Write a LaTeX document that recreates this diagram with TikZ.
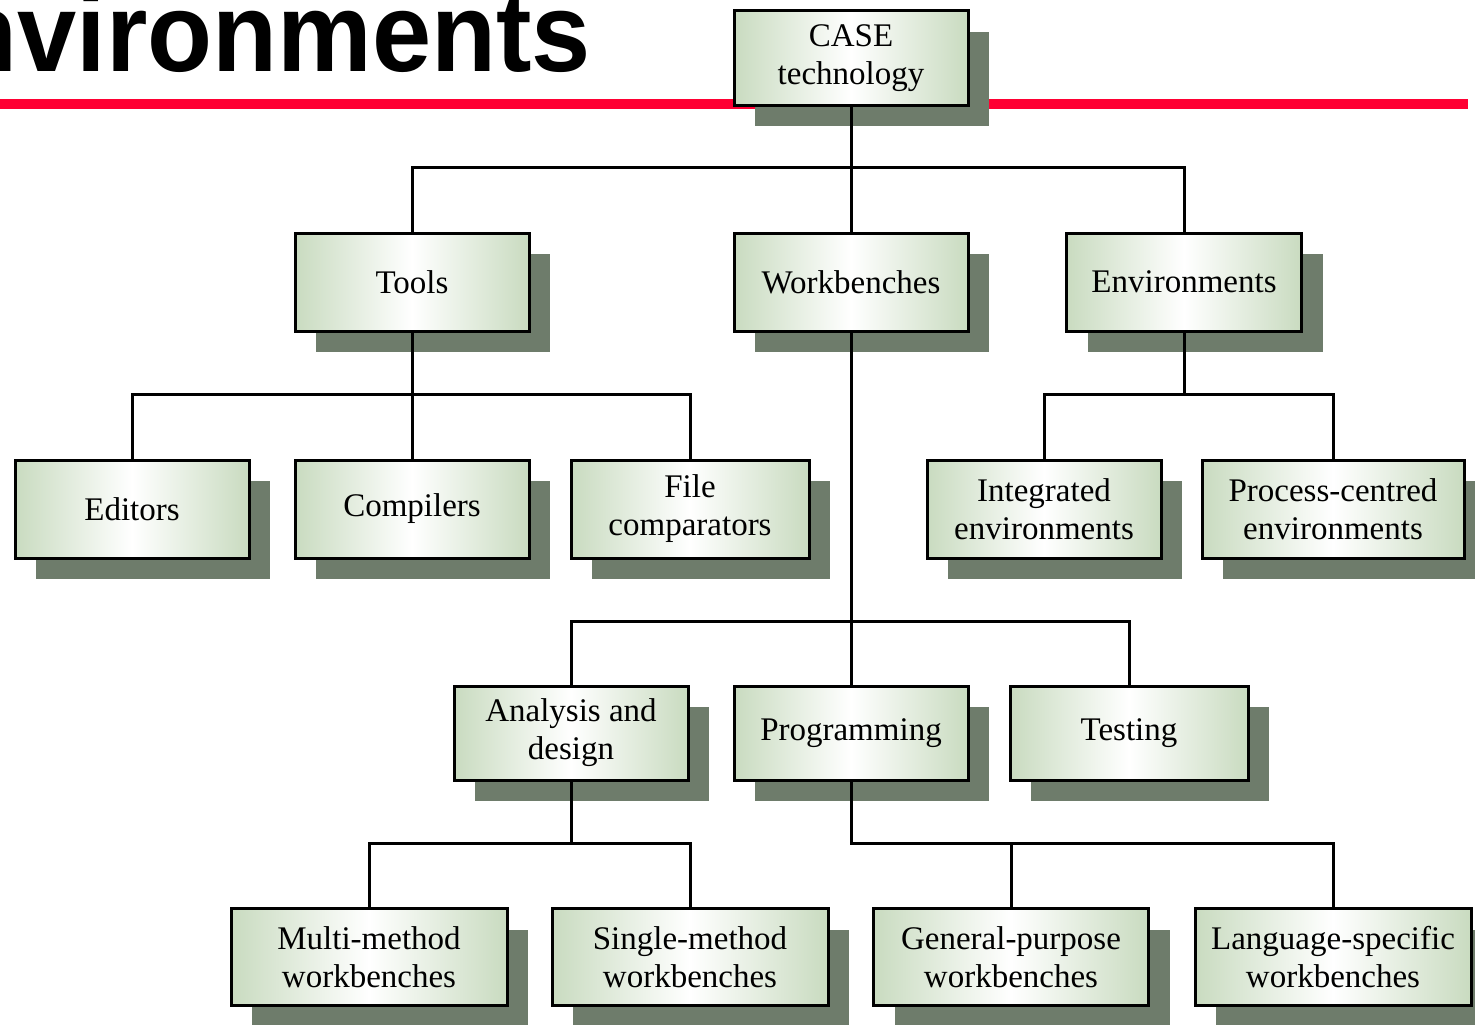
\documentclass[tikz,border=0pt]{standalone}
\usepackage{fontspec}
\setmainfont{Liberation Serif}
\newfontfamily\headfont{Liberation Sans}
\usetikzlibrary{shadows}
\definecolor{boxgreen}{HTML}{C9DBC0}
\definecolor{shadowgreen}{HTML}{6E7C6B}
\definecolor{rulered}{HTML}{FF0033}
\tikzset{
  casebox/.style={draw=black, line width=3pt, inner sep=0pt,
    left color=boxgreen, right color=boxgreen, middle color=white,
    align=center, font=\fontsize{33}{38}\selectfont,
    minimum width=234pt, minimum height=98pt,
    drop shadow={shadow xshift=21pt, shadow yshift=-21pt,
                 fill=shadowgreen, opacity=1}},
  link/.style={draw=black, line width=3pt}
}
\begin{document}
\begin{tikzpicture}[x=1pt, y=-1pt]
  \useasboundingbox (0,0) rectangle (1475,1025);
  % heading and rule
  \fill[rulered] (0,98.5) rectangle (1468,108.5);
  \node[anchor=base east, inner sep=0pt, xscale=0.95,
        font=\headfont\bfseries\fontsize{112}{112}\selectfont]
        (heading) at (591,71) {Environments};

  % boxes
  \node[casebox, minimum height=94pt] (case) at (851,58) {CASE\\technology};

  \node[casebox] (tools) at (412,282) {Tools};
  \node[casebox] (wb)    at (851,282) {Workbenches};
  \node[casebox, minimum width=235pt] (env) at (1184,282) {Environments};

  \node[casebox] (edit) at (132,509) {Editors};
  \node[casebox] (comp) at (412,509) {Compilers};
  \node[casebox, minimum width=238pt] (filec) at (690,509) {File\\comparators};
  \node[casebox] (integ) at (1044,509) {Integrated\\environments};
  \node[casebox, minimum width=262pt] (proc) at (1333,509) {Process-centred\\environments};

  \node[casebox, minimum height=94pt] (anal) at (571,733) {Analysis and\\design};
  \node[casebox, minimum height=94pt] (prog) at (851,733) {Programming};
  \node[casebox, minimum height=94pt, minimum width=238pt] (test) at (1129,733) {Testing};

  \node[casebox, minimum width=276pt, minimum height=97pt] (multi)  at (369,957) {Multi-method\\workbenches};
  \node[casebox, minimum width=276pt, minimum height=97pt] (single) at (690,957) {Single-method\\workbenches};
  \node[casebox, minimum width=275pt, minimum height=97pt] (gen)    at (1011,957) {General-purpose\\workbenches};
  \node[casebox, minimum width=276pt, minimum height=97pt] (lang)   at (1333,957) {Language-specific\\workbenches};

  % bus levels
  \coordinate (b1) at (0,167);
  \coordinate (b2) at (0,394);
  \coordinate (b3) at (0,621);
  \coordinate (b4) at (0,843);

  % CASE technology
  \draw[link] (case.south) -- (b1 -| case.south);
  \draw[link] (tools.north) |- (b1 -| env.north) -- (env.north);
  \draw[link] (wb.north) -- (b1 -| wb.north);

  % Tools
  \draw[link] (tools.south) -- (b2 -| tools.south);
  \draw[link] (edit.north) |- (b2 -| filec.north) -- (filec.north);
  \draw[link] (comp.north) -- (b2 -| comp.north);

  % Environments
  \draw[link] (env.south) -- (b2 -| env.south);
  \draw[link] (integ.north) |- (b2 -| proc.north) -- (proc.north);

  % Workbenches
  \draw[link] (wb.south) -- (b3 -| wb.south);
  \draw[link] (anal.north) |- (b3 -| test.north) -- (test.north);
  \draw[link] (prog.north) -- (b3 -| prog.north);

  % Analysis and design
  \draw[link] (anal.south) -- (b4 -| anal.south);
  \draw[link] (multi.north) |- (b4 -| single.north) -- (single.north);

  % Programming
  \draw[link] (prog.south) |- (b4 -| lang.north) -- (lang.north);
  \draw[link] (gen.north) -- (b4 -| gen.north);
\end{tikzpicture}
\end{document}
